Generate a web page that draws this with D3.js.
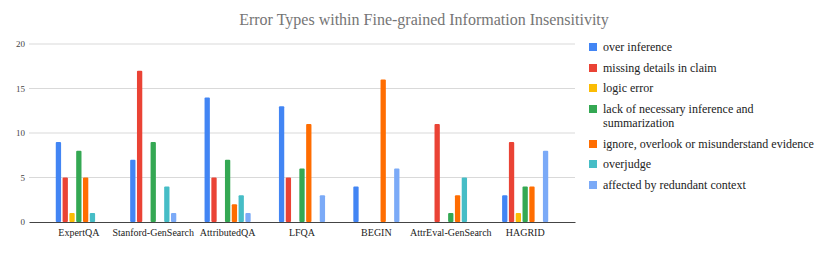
<!DOCTYPE html>
<html>
<head>
<meta charset="utf-8">
<script src="https://cdn.jsdelivr.net/npm/d3@7"></script>
<style>
body{margin:0;background:#fff;}
</style>
</head>
<body>
<script>
// 数据
var categories = ['ExpertQA','Stanford-GenSearch','AttributedQA','LFQA','BEGIN','AttrEval-GenSearch','HAGRID'];
var seriesNames = ['over inference','missing details in claim','logic error','lack of necessary inference and summarization','ignore, overlook or misunderstand evidence','overjudge','affected by redundant context'];
var overInference = [9,7,14,13,4,0,3];
var missingDetails = [5,17,5,5,0,11,9];
var logicError = [1,0,0,0,0,0,1];
var lackInference = [8,9,7,6,0,1,4];
var ignoreEvidence = [5,0,2,11,16,3,4];
var overjudge = [1,4,3,0,0,5,0];
var redundantContext = [0,1,1,3,6,0,8];
var yTicks = [0,5,10,15,20];
var colors = ['#4285F4','#EA4335','#FBBC04','#34A853','#FF6D01','#46BDC6','#7BAAF7'];

var series = [overInference,missingDetails,logicError,lackInference,ignoreEvidence,overjudge,redundantContext];
var serif = '"Liberation Serif","Times New Roman",serif';

var width = 830, height = 253,
	margin = {left:29,top:44,right:255,bottom:31},
	g_width = width - margin.left - margin.right,
	g_height = height - margin.top - margin.bottom;

var svg = d3.select('body').append('svg')
	.attr('width',width)
	.attr('height',height)
	.attr('font-family',serif);

//标题
svg.append('text')
	.attr('x',424).attr('y',25)
	.attr('text-anchor','middle')
	.attr('fill','#757575')
	.style('font-size','16px')
	.text('Error Types within Fine-grained Information Insensitivity');

var g = svg.append('g').attr('transform','translate('+margin.left+','+margin.top+')');

var scale_x = d3.scaleBand().domain(categories).range([0,g_width]).paddingInner(0.38).paddingOuter(0.36);
var scale_inner = d3.scaleBand().domain(d3.range(series.length)).range([0,scale_x.bandwidth()]).paddingInner(0.22);
var scale_y = d3.scaleLinear().domain([0,20]).range([g_height,0]);

//网格
g.selectAll('.grid').data(yTicks.filter(function(d){return d>0;})).enter()
	.append('line')
	.attr('x1',0).attr('x2',g_width)
	.attr('y1',function(d){return scale_y(d);})
	.attr('y2',function(d){return scale_y(d);})
	.attr('stroke','#d9d9d9').attr('stroke-width',1);

//柱子
series.forEach(function(vals,si){
	g.append('g').selectAll('rect').data(vals).enter()
		.append('rect')
		.attr('x',function(d,i){return scale_x(categories[i]) + scale_inner(si);})
		.attr('y',function(d){return scale_y(d);})
		.attr('width',scale_inner.bandwidth())
		.attr('height',function(d){return g_height - scale_y(d);})
		.attr('rx',1)
		.attr('fill',colors[si]);
});

//坐标轴
var y_axis = d3.axisLeft(scale_y).tickValues(yTicks).tickSize(0).tickPadding(4);
var yg = g.append('g').call(y_axis).attr('font-family',serif);
yg.select('.domain').remove();
yg.selectAll('text').style('font-size','9px').attr('fill','#444');

var x_axis = d3.axisBottom(scale_x).tickSize(0).tickPadding(7);
var xg = g.append('g').attr('transform','translate(0,'+g_height+')').call(x_axis).attr('font-family',serif);
xg.select('.domain').attr('stroke','#444');
xg.selectAll('text').style('font-size','10px').attr('fill','#222');

//图例
var legend = svg.append('g').attr('transform','translate(589,0)');
var rowY = [47,68,88,109,144,164,185];
seriesNames.forEach(function(name,i){
	var lg = legend.append('g').attr('transform','translate(0,'+rowY[i]+')');
	lg.append('rect').attr('x',0).attr('y',-4).attr('width',8).attr('height',8).attr('fill',colors[i]);
	var t = lg.append('text').attr('x',14).attr('y',4).attr('fill','#222').style('font-size','12px');
	if(i===3){
		t.append('tspan').attr('x',14).text('lack of necessary inference and');
		t.append('tspan').attr('x',14).attr('dy',14).text('summarization');
	}else{
		t.text(name);
	}
});
</script>
</body>
</html>
